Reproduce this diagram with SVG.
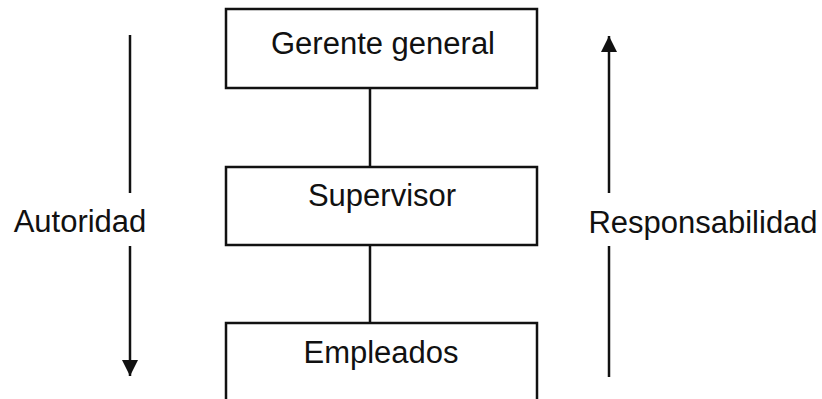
<svg xmlns="http://www.w3.org/2000/svg" width="822" height="399" viewBox="0 0 822 399">
  <style>
    .box { fill: #ffffff; stroke: #111111; stroke-width: 2.5; }
    .line { fill: none; stroke: #111111; stroke-width: 2.5; }
    .label { font-family: "Liberation Sans", Arial, sans-serif; font-size: 31px; fill: #111111; text-anchor: middle; }
  </style>
  <defs>
    <marker id="head" viewBox="0 0 10 10" refX="10" refY="5" markerWidth="16" markerHeight="16" markerUnits="userSpaceOnUse" orient="auto">
      <path d="M0,0 L10,5 L0,10 Z" fill="#111111"/>
    </marker>
  </defs>
  <rect width="822" height="399" fill="#ffffff"/>

  <g id="connectors">
    <line class="line" x1="370" y1="88" x2="370" y2="167"/>
    <line class="line" x1="370" y1="245" x2="370" y2="323"/>
    <!-- authority flows down -->
    <line class="line" x1="130" y1="35" x2="130" y2="193"/>
    <line class="line" x1="130" y1="246" x2="130" y2="376" marker-end="url(#head)"/>
    <!-- responsibility flows up -->
    <line class="line" x1="609" y1="193" x2="609" y2="36" marker-end="url(#head)"/>
    <line class="line" x1="609" y1="246" x2="609" y2="377"/>
  </g>

  <g id="gerente">
    <rect class="box" x="226" y="9" width="311" height="79"/>
    <text class="label" x="383" y="54">Gerente general</text>
  </g>
  <g id="supervisor">
    <rect class="box" x="226" y="167" width="311" height="78"/>
    <text class="label" x="382" y="206">Supervisor</text>
  </g>
  <g id="empleados">
    <rect class="box" x="226" y="323" width="311" height="90"/>
    <text class="label" x="381" y="363">Empleados</text>
  </g>

  <g id="autoridad">
    <text class="label" x="80" y="232">Autoridad</text>
  </g>
  <g id="responsabilidad">
    <text class="label" x="703" y="233">Responsabilidad</text>
  </g>
</svg>
